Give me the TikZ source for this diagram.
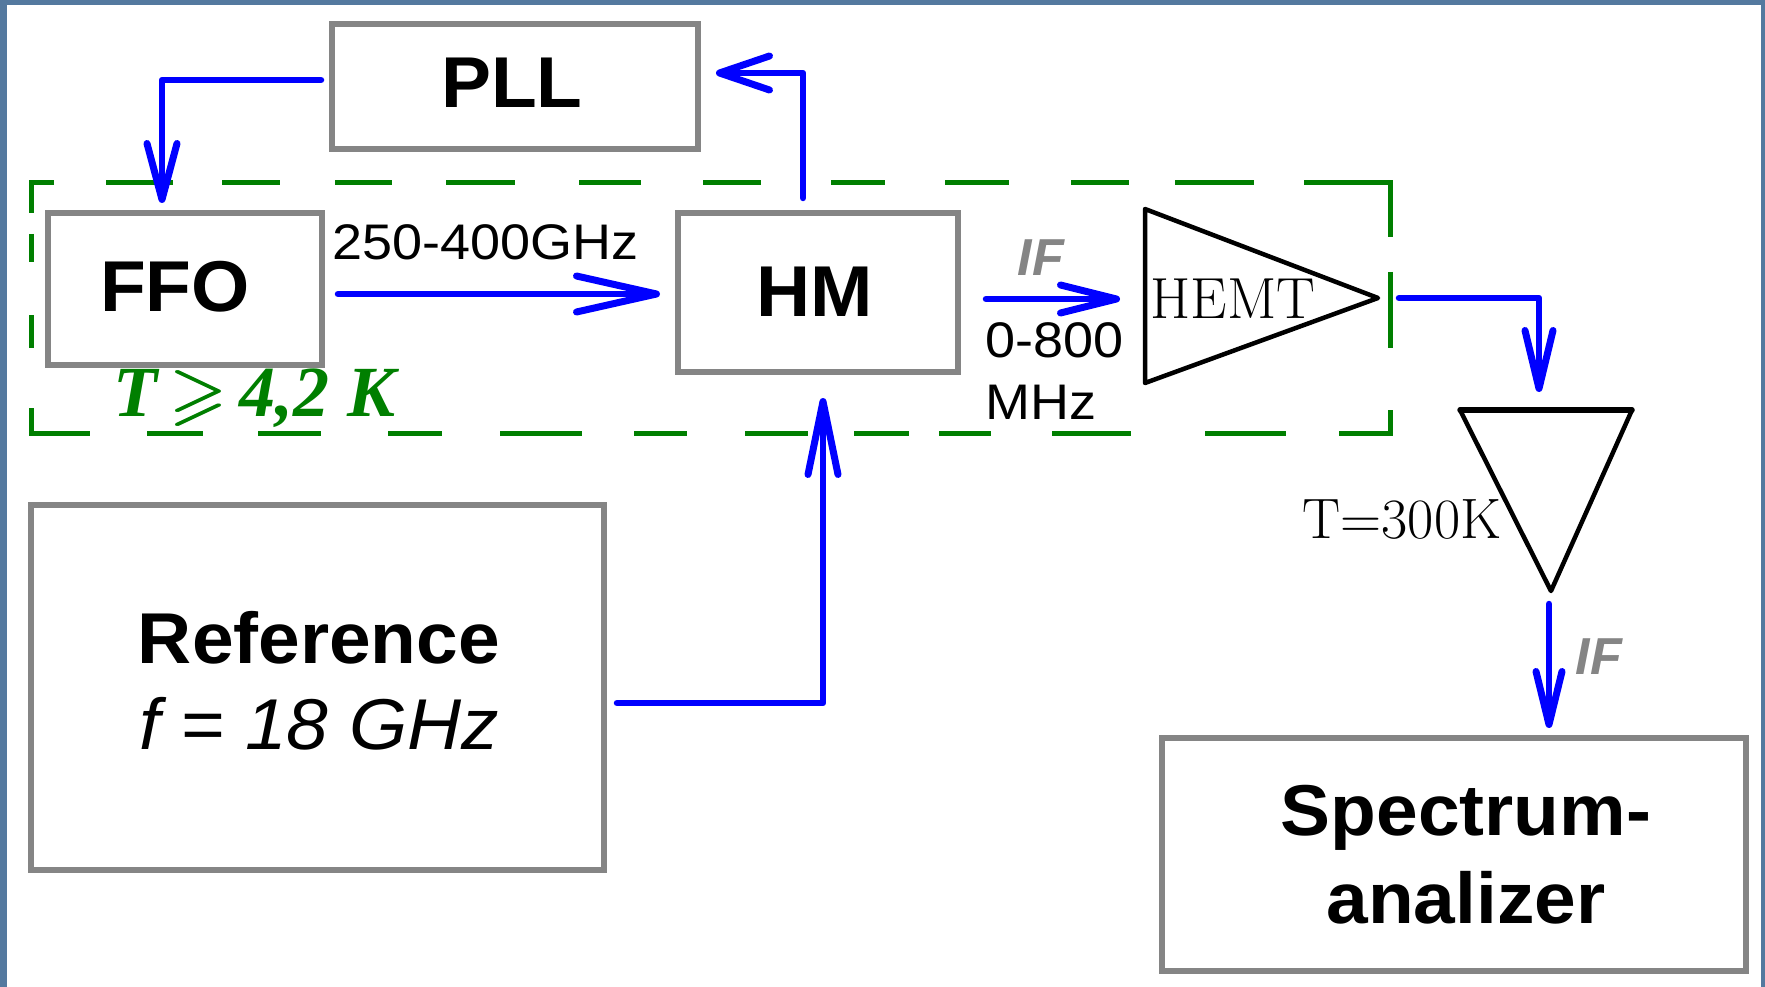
\documentclass[tikz,border=0pt]{standalone}
\usepackage{amssymb}
\usepackage{fontspec}
\setsansfont{Liberation Sans}
\newfontfamily\timesfont{Liberation Serif}
\newfontfamily\blockfont[FakeStretch=1.04]{Liberation Sans}
\newfontfamily\labelfont[FakeStretch=1.08]{Liberation Sans}
\usetikzlibrary{arrows.meta}
\definecolor{bgblue}{HTML}{54799F}
\definecolor{boxgray}{HTML}{858585}
\definecolor{arrblue}{HTML}{0000FF}
\definecolor{dashgreen}{HTML}{007F00}
\newcommand{\px}[1]{\fontsize{#1}{#1}\selectfont}
\newcommand{\heavygeq}{\rlap{$\geqslant$}\kern1pt\rlap{$\geqslant$}\kern1pt$\geqslant$}
\tikzset{
 x=1pt,y=-1pt,
 blockbox/.style={draw=boxgray,line width=5.5pt,fill=none,inner sep=0pt,outer sep=0pt,anchor=north west},
 blocktext/.style={font=\blockfont\bfseries\px{72},inner sep=0pt,align=center},
 conn/.style 2 args={draw=arrblue,line width=6.5pt,line cap=round,line join=round,
   -{Straight Barb[length=#1,width=#2,line width=7pt,round]}},
 cryo/.style={draw=dashgreen,line width=5pt},
 amp/.style={draw=black,line width=4.5pt,line join=round},
 smalllabel/.style={font=\labelfont\px{50},inner sep=0pt,anchor=west},
 iflabel/.style={font=\sffamily\bfseries\itshape\px{52},text=boxgray,inner sep=0pt},
 seriflabel/.style={font=\rmfamily\px{58},inner sep=0pt},
}
\begin{document}
\begin{tikzpicture}
\useasboundingbox (0,0) rectangle (1765,987);
\fill[bgblue] (0,0) rectangle (1765,987);
\fill[white] (7,5) rectangle (1761,987);
% cryostat outline
\draw[cryo] (54,183)--(31,183)--(31,213);
\draw[cryo] (106,183)--(173,183) (222,183)--(280,183) (335,183)--(392,183) (446,183)--(515,183) (579,183)--(641,183) (703,183)--(761,183) (831,183)--(885,183) (945,183)--(1009,183) (1071,183)--(1129,183) (1175,183)--(1254,183) (1304,183)--(1390,183)--(1390,237);
\draw[cryo] (1390,272)--(1390,348);
\draw[cryo] (1390,410)--(1390,433)--(1339,433);
\draw[cryo] (31,234)--(31,262) (31,315)--(31,348);
\draw[cryo] (31,408)--(31,433)--(90,433);
\draw[cryo] (147,433)--(203,433) (258,433)--(321,433) (388,433)--(442,433) (500,433)--(582,433) (634,433)--(687,433) (745,433)--(808,433) (854,433)--(909,433) (939,433)--(991,433) (1052,433)--(1131,433) (1205,433)--(1286,433);
% boxes
\node[blockbox,minimum width=366pt,minimum height=125pt] (pll) at (332,24) {};
\node[blockbox,minimum width=274pt,minimum height=152pt] (ffo) at (48,213) {};
\node[blockbox,minimum width=280pt,minimum height=159pt] (hm) at (678,213) {};
\node[blockbox,minimum width=573pt,minimum height=365pt] (ref) at (31,505) {};
\node[blockbox,minimum width=584pt,minimum height=233pt] (sa) at (1162,738) {};
\node[blocktext] (plltxt) at (512,83) {PLL};
\node[blocktext] (ffotxt) at (175,287) {FFO};
\node[blocktext] (hmtxt) at (815,292) {HM};
\node[blocktext,font=\blockfont\px{72}] (reftxt) at (319,681) {{\bfseries Reference}\\[14pt]{\itshape f = 18 GHz}};
\node[blocktext] (satxt) at (1466,855) {Spectrum-\\[16pt]analizer};
% amplifiers
\draw[amp] (1145,209)--(1145,383)--(1378,298)--cycle;
\draw[amp] (1460,410)--(1632,410)--(1551,591)--cycle;
\draw[black,line width=5.5pt,line cap=round] (1460,410)--(1632,410);
\node[seriflabel] (hemt) at (1233,299) {HEMT};
\node[seriflabel,font=\rmfamily\px{57}] (t300) at (1402,519) {T=300K};
% labels
\node[smalllabel] (ghz) at (332,242) {250-400GHz};
\node[smalllabel] (mhza) at (985,340) {0-800};
\node[smalllabel] (mhzb) at (985,402) {MHz};
\node[iflabel] (ifa) at (1041,258) {IF};
\node[iflabel] (ifb) at (1599,657) {IF};
\node[inner sep=0pt,text=dashgreen] (tk) at (255,398) {\timesfont\bfseries\itshape\px{72}T\,\heavygeq\,4,2 K};
% connectors
\coordinate (a1) at (321,80);
\coordinate (a2) at (162,203);
\draw[conn={56pt}{30pt}] (a1) -| (a2);
\coordinate (b1) at (803,198);
\coordinate (b2) at (716,73);
\draw[conn={50pt}{34pt}] (b1) |- (b2);
\coordinate (c1) at (338,294);
\coordinate (c2) at (660,294);
\draw[conn={80pt}{36pt}] (c1) -- (c2);
\coordinate (d1) at (617,703);
\coordinate (d2) at (823,398);
\draw[conn={73pt}{30pt}] (d1) -| (d2);
\coordinate (e1) at (986,299);
\coordinate (e2) at (1120,299);
\draw[conn={56pt}{28pt}] (e1) -- (e2);
\coordinate (f1) at (1399,298);
\coordinate (f2) at (1539,392);
\draw[conn={58pt}{28pt}] (f1) -| (f2);
\coordinate (g1) at (1549,604);
\coordinate (g2) at (1549,728);
\draw[conn={53pt}{26pt}] (g1) -- (g2);
\end{tikzpicture}
\end{document}
